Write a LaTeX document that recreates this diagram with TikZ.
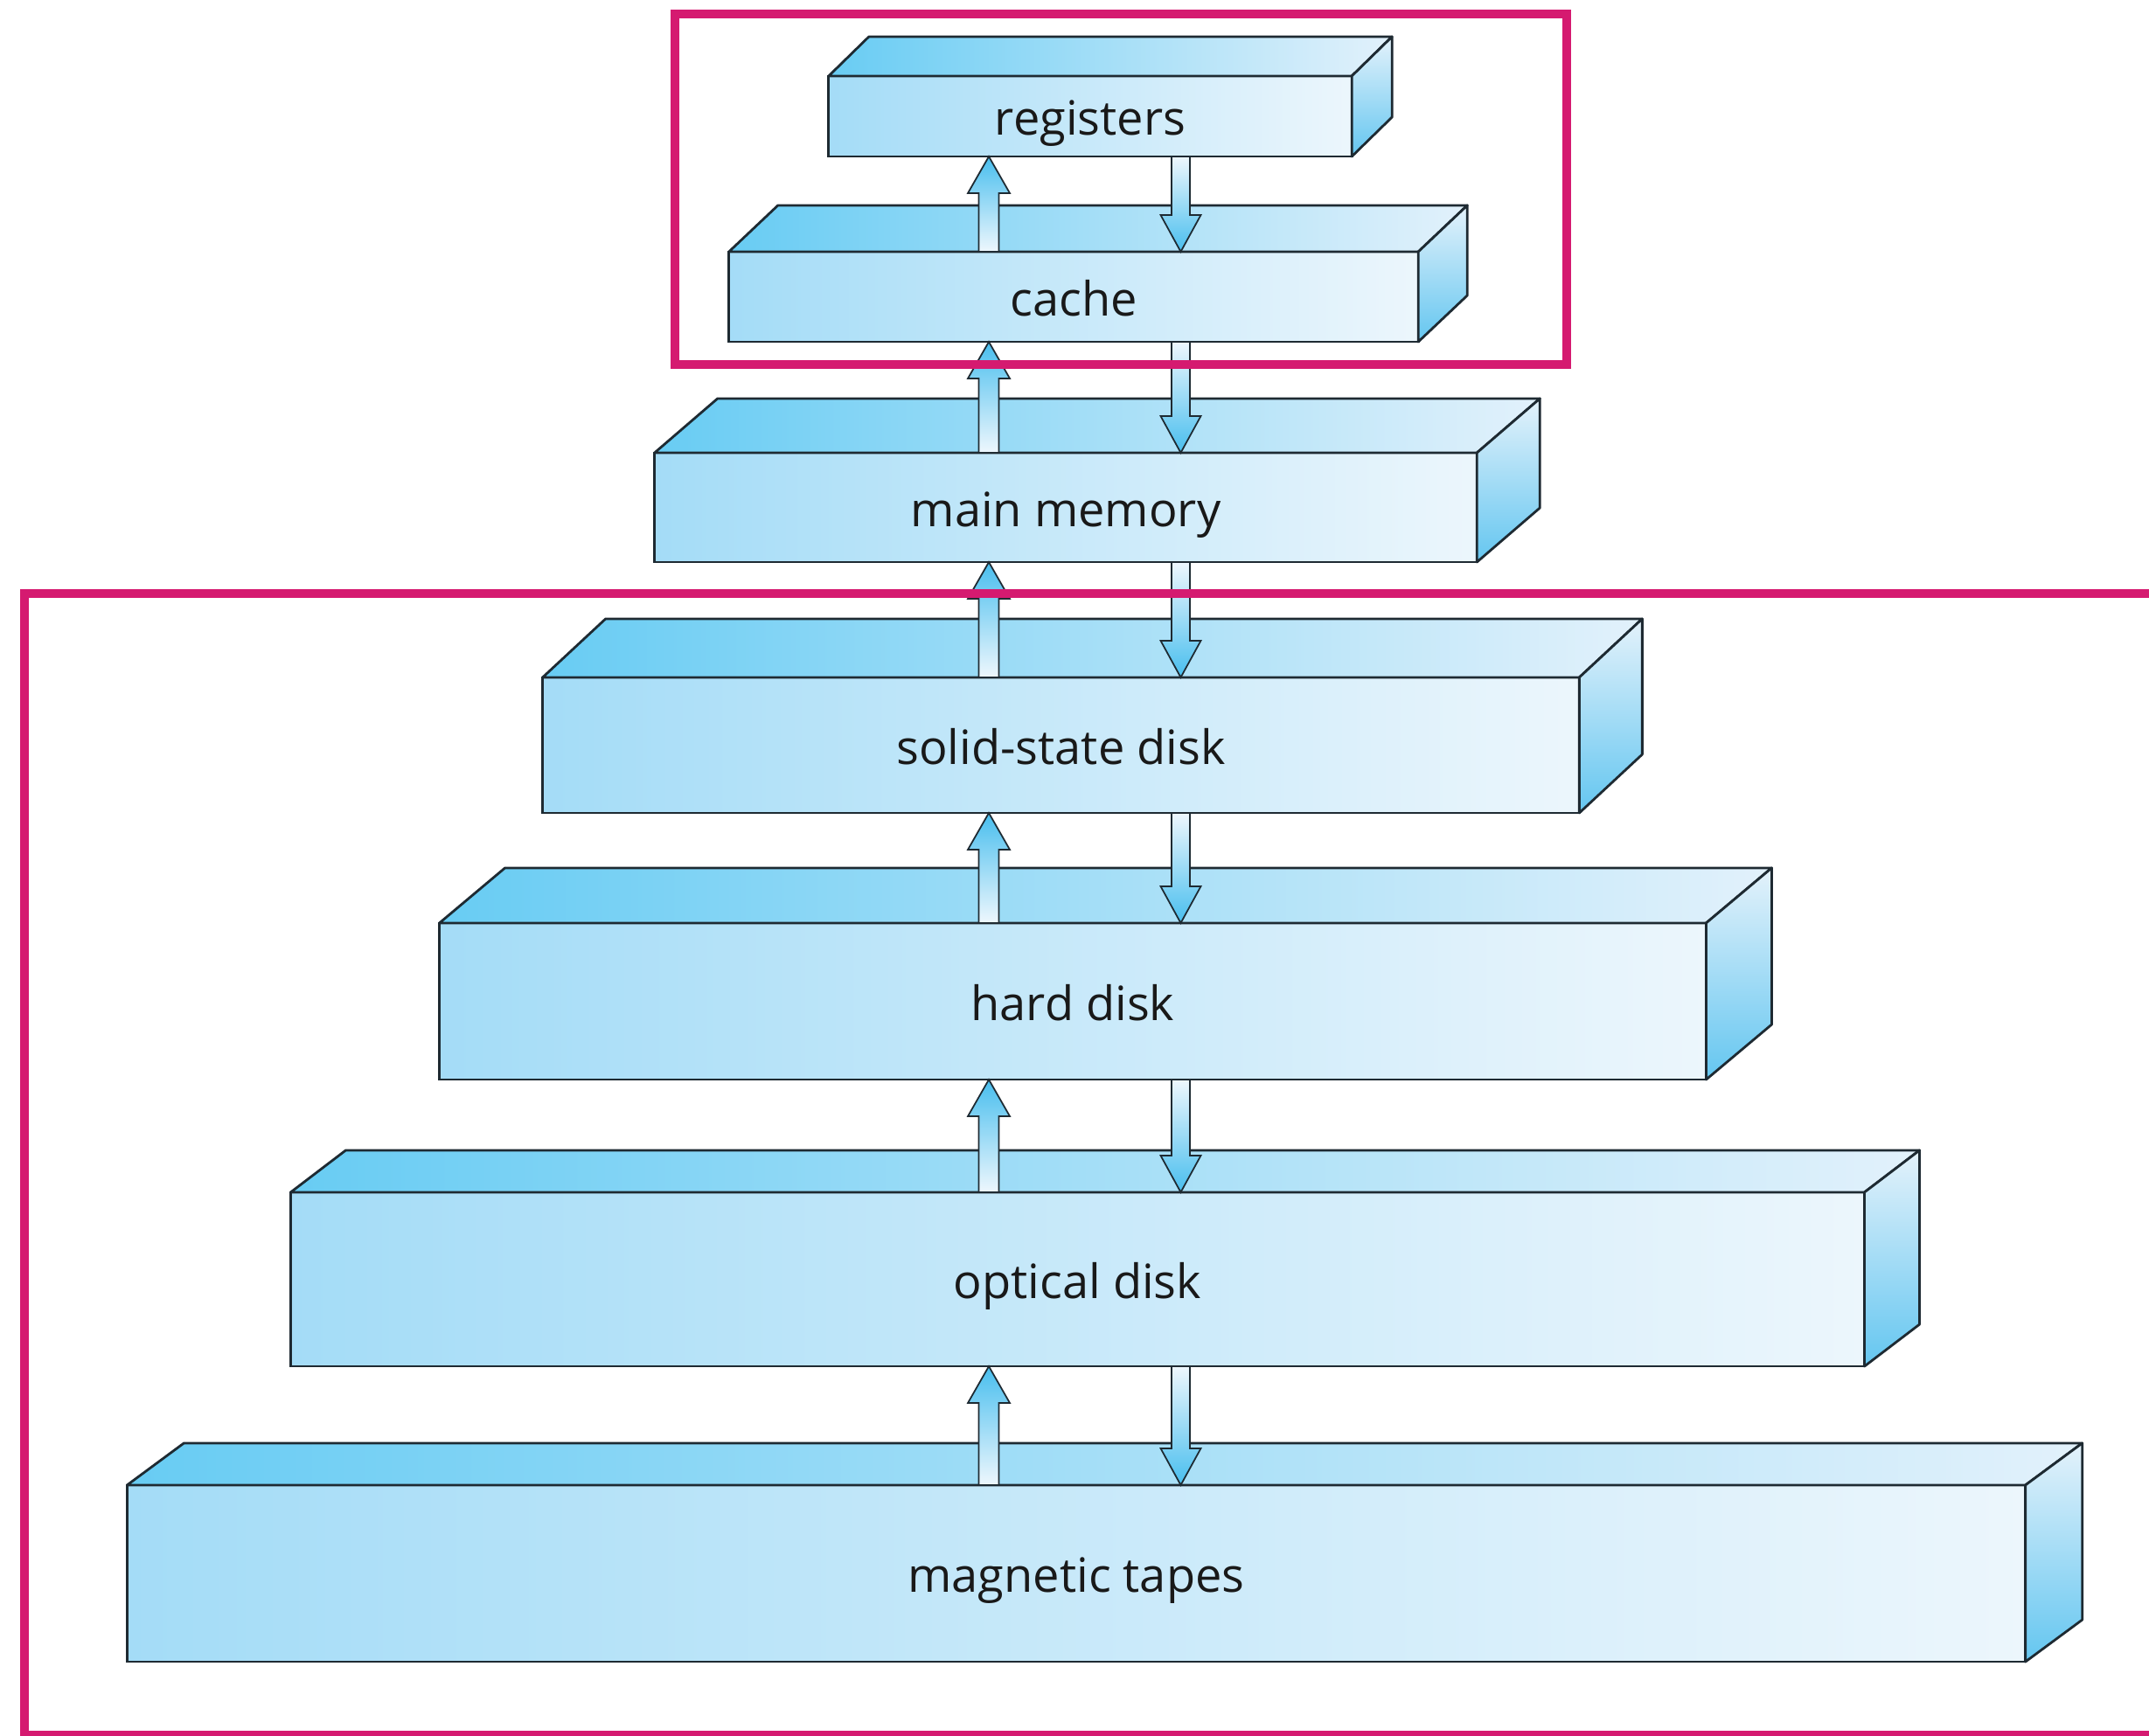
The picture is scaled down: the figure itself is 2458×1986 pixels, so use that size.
\documentclass[tikz,border=0pt]{standalone}
\usepackage{fontspec}
\setmainfont{Open Sans}
\usetikzlibrary{calc, positioning}

\definecolor{frontleft}{RGB}{164,220,247}
\definecolor{frontright}{RGB}{236,246,252}
\definecolor{topleft}{RGB}{104,204,243}
\definecolor{topright}{RGB}{226,241,251}
\definecolor{sidetop}{RGB}{228,242,251}
\definecolor{sidebottom}{RGB}{100,198,240}
\definecolor{arrowblue}{RGB}{72,190,238}
\definecolor{arrowpale}{RGB}{238,247,253}
\definecolor{edgeline}{RGB}{30,42,50}
\definecolor{rimpink}{RGB}{213,26,112}

\tikzset{
	level/.style={rectangle, draw=edgeline, line width=0.8pt, left color=frontleft, right color=frontright,
		outer sep=0pt, inner sep=0pt, text height=12.5pt, text depth=0pt,
		text=black!90, font=\fontsize{15.4}{18}\selectfont},
	topface/.style={draw=edgeline, line width=0.8pt, left color=topleft, right color=topright, line join=round},
	sideface/.style={draw=edgeline, line width=0.8pt, top color=sidetop, bottom color=sidebottom, line join=round},
	uparrow/.style={draw=edgeline, line width=0.5pt, top color=arrowblue, bottom color=arrowpale},
	downarrow/.style={draw=edgeline, line width=0.5pt, top color=arrowpale, bottom color=arrowblue},
	scopebox/.style={draw=rimpink, line width=0.1cm}
}

% top and right side of a level: node, depth x, depth y
\newcommand{\slab}[3]{
	\path[topface] (#1.north west) -- ++(#2,-#3) -- ($(#1.north east)+(#2,-#3)$) -- (#1.north east) -- cycle;
	\path[sideface] (#1.north east) -- ++(#2,-#3) -- ($(#1.south east)+(#2,-#3)$) -- (#1.south east) -- cycle;
}
% block arrows between two levels
\newcommand{\upflow}[2]{
	\path[uparrow] ($(upx |- #1.north)+(-11.5,0)$) -- ($(upx |- #2.south)+(-11.5,42)$) -- ++(-12.5,0)
		-- (upx |- #2.south) -- ($(upx |- #2.south)+(24,42)$) -- ++(-12.5,0)
		-- ($(upx |- #1.north)+(11.5,0)$) -- cycle;
}
\newcommand{\downflow}[2]{
	\path[downarrow] ($(dnx |- #1.south)+(-10.5,0)$) -- ($(dnx |- #2.north)+(-10.5,-42)$) -- ++(-12.5,0)
		-- (dnx |- #2.north) -- ($(dnx |- #2.north)+(23,-42)$) -- ++(-12.5,0)
		-- ($(dnx |- #1.south)+(10.5,0)$) -- cycle;
}

\begin{document}
\begin{tikzpicture}[x=0.01cm, y=-0.01cm]
	\useasboundingbox (0,0) rectangle (2458,1986);
	\clip (0,0) rectangle (2458,1986);

	\node[level, minimum width=5.98cm, minimum height=0.92cm] (reg) at (1247,133) {registers};
	\node[level, minimum width=7.88cm, minimum height=1.03cm] (cache) at (1228,339.5) {cache};
	\node[level, minimum width=9.40cm, minimum height=1.25cm] (mem) at (1219,580.5) {main memory};
	\node[level, minimum width=11.85cm, minimum height=1.55cm] (ssd) at (1213.5,852.5) {solid-state disk};
	\node[level, minimum width=14.48cm, minimum height=1.79cm] (hdd) at (1227,1145.5) {hard disk};
	\node[level, minimum width=17.99cm, minimum height=1.99cm] (odd) at (1232.5,1463.5) {optical disk};
	\node[level, minimum width=21.70cm, minimum height=2.02cm] (tape) at (1231,1800) {magnetic tapes};

	\slab{reg}{46}{45}
	\slab{cache}{56}{53}
	\slab{mem}{72}{62}
	\slab{ssd}{72}{67}
	\slab{hdd}{75}{63}
	\slab{odd}{63}{48}
	\slab{tape}{65}{48}

	\coordinate (upx) at (1131,0);
	\coordinate (dnx) at (1350.5,0);

	\upflow{cache}{reg}
	\upflow{mem}{cache}
	\upflow{ssd}{mem}
	\upflow{hdd}{ssd}
	\upflow{odd}{hdd}
	\upflow{tape}{odd}

	\downflow{reg}{cache}
	\downflow{cache}{mem}
	\downflow{mem}{ssd}
	\downflow{ssd}{hdd}
	\downflow{hdd}{odd}
	\downflow{odd}{tape}

	\draw[scopebox] (772,16) rectangle (1792,417);
	\draw[scopebox] (28,679) rectangle (2500,1985);
\end{tikzpicture}
\end{document}
